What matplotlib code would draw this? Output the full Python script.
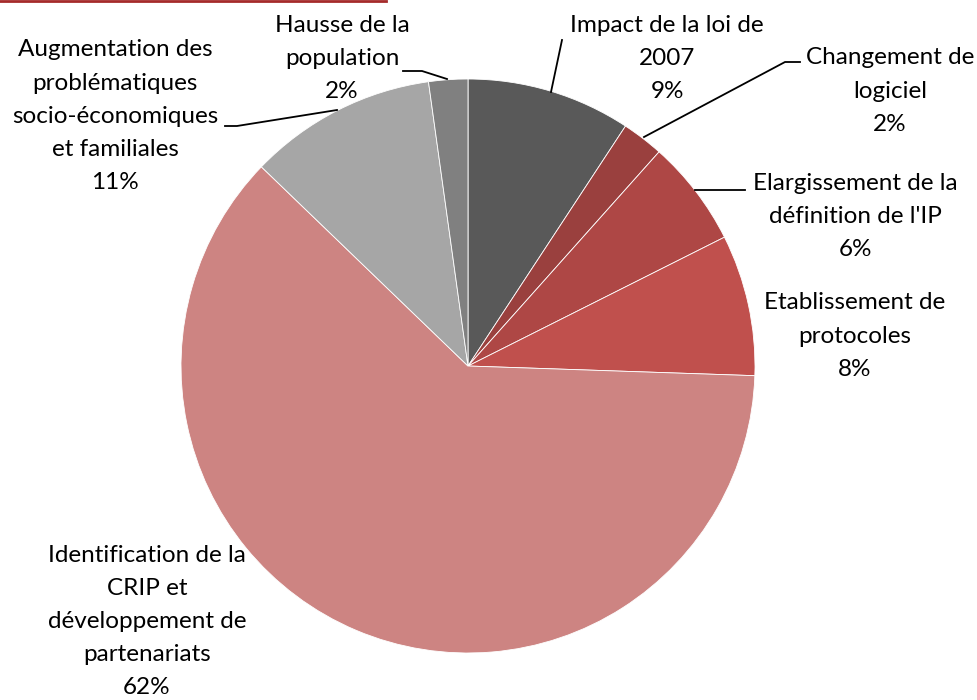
import matplotlib
matplotlib.use("Agg")
import matplotlib.pyplot as plt
from matplotlib.lines import Line2D

W, H = 978, 700

categories = [
    "Impact de la loi de\n2007",
    "Changement de\nlogiciel",
    "Elargissement de la\ndéfinition de l'IP",
    "Etablissement de\nprotocoles",
    "Identification de la\nCRIP et\ndéveloppement de\npartenariats",
    "Augmentation des\nproblématiques\nsocio-économiques\net familiales",
    "Hausse de la\npopulation",
]
values = [9.25, 2.35, 6.0, 7.95, 61.7, 10.6, 2.2]
colors = ["#595959", "#9a403e", "#ae4745", "#c0504d", "#cd8482", "#a6a6a6", "#808080"]

# label centre (x, y of first line) in pixel coords, top-left origin
label_pos = [(667, 25), (890, 58), (855, 183), (855, 303), (147, 556), (115, 50), (342, 25)]
leaders = {
    0: [(562, 40), (551, 92)],
    1: [(800, 62), (785, 62), (644, 137)],
    2: [(745, 190), (695, 190)],
    5: [(225, 126), (237, 126), (337, 110)],
    6: [(403, 71), (422, 71), (447, 79)],
}

plt.rcParams["font.family"] = ["Lato", "DejaVu Sans"]

fig = plt.figure(figsize=(W / 100, H / 100), dpi=100)
ax = fig.add_axes([0, 0, 1, 1])
ax.set_xlim(0, W)
ax.set_ylim(0, H)
ax.set_aspect("equal")
ax.axis("off")

ax.pie(values, colors=colors, startangle=90, counterclock=False,
       center=(468, H - 366), radius=287,
       wedgeprops=dict(edgecolor="white", linewidth=0.6))
ax.set_xlim(0, W)
ax.set_ylim(0, H)

for cat, v, (x, y) in zip(categories, values, label_pos):
    text = cat + "\n" + f"{round(v)}%"
    line_h = 32.8 if y > 500 else 33.2
    for i, ln in enumerate(text.split("\n")):
        ax.text(x, H - (y + i * line_h), ln, ha="center", va="center",
                fontsize=17.5, color="black")

for pts in leaders.values():
    xs = [p[0] for p in pts]
    ys = [H - p[1] for p in pts]
    ax.add_line(Line2D(xs, ys, color="black", linewidth=1.3))

# cut-off red rule at the very top
ax.add_line(Line2D([0, 386], [H - 1, H - 1], color="#a52a2a", linewidth=2))

fig.savefig("out.png", dpi=100)
